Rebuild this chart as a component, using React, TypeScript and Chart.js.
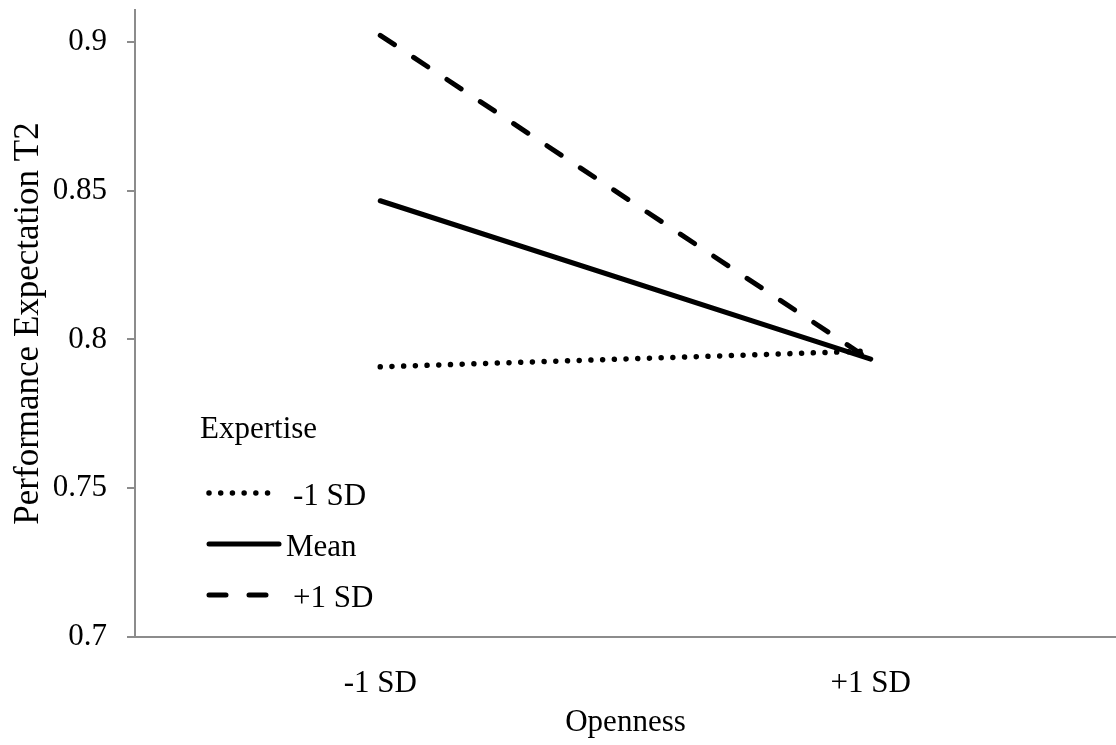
import React, { useEffect, useRef } from "react";
import { Chart, registerables } from "chart.js";

Chart.register(...registerables);

const categories = ["-1 SD", "+1 SD"];
const seriesLabels = ["-1 SD", "Mean", "+1 SD"];
const lowExpertise = [0.7908, 0.7961];
const meanExpertise = [0.8466, 0.7934];
const highExpertise = [0.9022, 0.793];
const yTicks = [0.7, 0.75, 0.8, 0.85, 0.9];
const yTickLabels = ["0.7", "0.75", "0.8", "0.85", "0.9"];
const legendTitle = "Expertise";
const xTitle = "Openness";
const yTitle = "Performance Expectation T2";

const FONT = "'Liberation Serif', 'Times New Roman', serif";
const AXIS_GRAY = "#8c8c8c";

const legendPlugin = {
  id: "insideLegend",
  afterDatasetsDraw(chart: any) {
    const ctx = chart.ctx;
    ctx.save();
    ctx.fillStyle = "#000";
    ctx.font = `31px ${FONT}`;
    ctx.textBaseline = "alphabetic";
    ctx.textAlign = "left";
    ctx.fillText(legendTitle, 200, 438);
    const rows = [493, 544, 595];
    const textX = [293, 286, 293];
    const baseOff = 12;
    chart.data.datasets.forEach((ds: any, i: number) => {
      const y = rows[i];
      ctx.beginPath();
      ctx.strokeStyle = ds.borderColor;
      ctx.lineWidth = ds.borderWidth;
      ctx.lineCap = ds.borderCapStyle || "butt";
      ctx.setLineDash(ds.borderDash || []);
      ctx.moveTo(209, y);
      ctx.lineTo(i === 1 ? 279 : 278, y);
      ctx.stroke();
      ctx.setLineDash([]);
      ctx.fillText(ds.label, textX[i], y + baseOff);
    });
    ctx.restore();
  },
};

export default function App() {
  const ref = useRef<HTMLCanvasElement>(null);
  useEffect(() => {
    document.body.style.margin = "0";
    const chart = new Chart(ref.current as HTMLCanvasElement, {
      type: "line",
      data: {
        labels: categories,
        datasets: [
          {
            label: seriesLabels[0],
            data: lowExpertise,
            borderColor: "#000",
            borderWidth: 5.5,
            borderDash: [0.01, 11.7],
            borderCapStyle: "round",
            pointRadius: 0,
            fill: false,
          },
          {
            label: seriesLabels[1],
            data: meanExpertise,
            borderColor: "#000",
            borderWidth: 5,
            borderCapStyle: "round",
            pointRadius: 0,
            fill: false,
          },
          {
            label: seriesLabels[2],
            data: highExpertise,
            borderColor: "#000",
            borderWidth: 5,
            borderDash: [17, 23],
            borderCapStyle: "round",
            pointRadius: 0,
            fill: false,
          },
        ] as any,
      },
      options: {
        animation: false,
        responsive: true,
        maintainAspectRatio: false,
        layout: { padding: { top: 10, right: 0, left: 0, bottom: 0 } },
        plugins: {
          legend: { display: false },
          tooltip: { enabled: false },
        },
        scales: {
          x: {
            type: "category",
            offset: true,
            grid: { display: false, drawTicks: false },
            border: { display: true, color: AXIS_GRAY, width: 2 },
            ticks: {
              color: "#000",
              font: { family: FONT, size: 31 },
              padding: 28,
              maxRotation: 0,
            },
            title: {
              display: true,
              text: xTitle,
              color: "#000",
              font: { family: FONT, size: 31 },
              padding: { top: 0, bottom: 4 },
            },
            afterFit: (scale: any) => {
              scale.height = 108;
              scale.paddingLeft = 0;
              scale.paddingRight = 0;
            },
          },
          y: {
            type: "linear",
            min: 0.7,
            max: 0.9107,
            afterBuildTicks: (axis: any) => {
              axis.ticks = yTicks.map((v) => ({ value: v }));
            },
            grid: {
              display: true,
              drawOnChartArea: false,
              drawTicks: true,
              tickLength: 8,
              color: AXIS_GRAY,
              lineWidth: 2,
            },
            border: { display: true, color: AXIS_GRAY, width: 2 },
            ticks: {
              color: "#000",
              font: { family: FONT, size: 31 },
              padding: 20,
              callback: (_v: any, i: number) => yTickLabels[i],
            },
            title: {
              display: true,
              text: yTitle,
              color: "#000",
              font: { family: FONT, size: 35 },
              padding: { top: 8, bottom: 0 },
            },
            afterFit: (scale: any) => {
              scale.width = 135;
              scale.paddingTop = 0;
              scale.paddingBottom = 0;
            },
          },
        },
      },
      plugins: [legendPlugin],
    } as any);
    return () => chart.destroy();
  }, []);
  return (
    <div style={{ width: 1116, height: 745, position: "relative" }}>
      <canvas ref={ref} />
    </div>
  );
}
